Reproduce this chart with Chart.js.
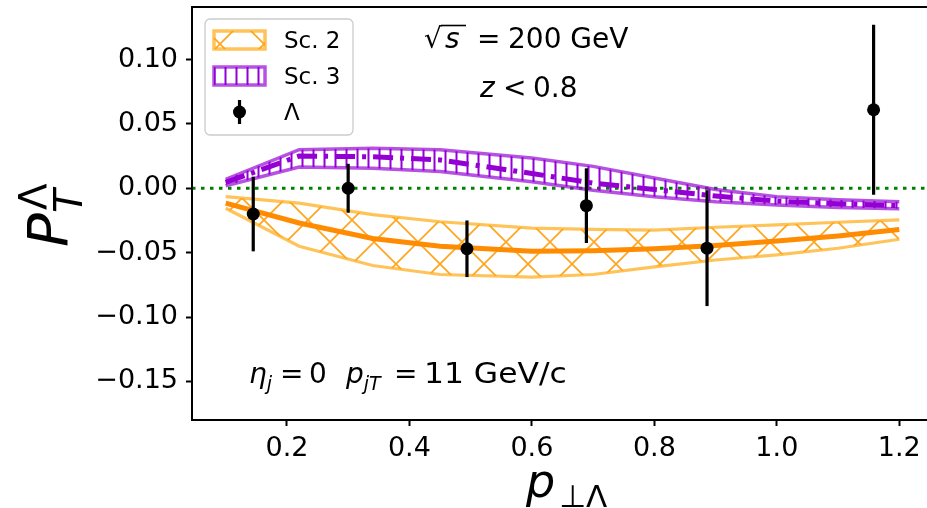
<!DOCTYPE html>
<html>
<head>
<meta charset="utf-8">
<script src="https://cdn.jsdelivr.net/npm/chart.js@4.4.1/dist/chart.umd.min.js"></script>
<style>
  html, body { margin: 0; padding: 0; background: #fff; overflow: hidden; }
  #wrap { width: 940px; height: 508px; }
</style>
</head>
<body>
<div id="wrap"><canvas id="chart" width="940" height="508"></canvas></div>
<script>
// axis ticks
const xTicks = [0.2, 0.4, 0.6, 0.8, 1.0, 1.2];
const yTicks = [-0.15, -0.10, -0.05, 0, 0.05, 0.10];

// model curves (Sc. 2 / Sc. 3)
const modelX = [0.1, 0.22, 0.34, 0.45, 0.6, 0.7, 0.8, 0.9, 1.0, 1.1, 1.2];
const sc2Upper = [-0.0065, -0.0115, -0.0205, -0.026, -0.031, -0.032, -0.0325, -0.0303, -0.0285, -0.0264, -0.0246];
const sc2Center = [-0.0116, -0.027, -0.039, -0.045, -0.049, -0.0485, -0.047, -0.0445, -0.041, -0.037, -0.032];
const sc2Lower = [-0.0155, -0.045, -0.060, -0.067, -0.069, -0.067, -0.061, -0.0557, -0.0518, -0.0466, -0.0396];
const sc3Upper = [0.007, 0.030, 0.031, 0.030, 0.0235, 0.017, 0.008, -0.001, -0.0065, -0.009, -0.0105];
const sc3Center = [0.0045, 0.025, 0.0245, 0.022, 0.0115, 0.004, -0.001, -0.006, -0.010, -0.012, -0.0135];
const sc3Lower = [0.002, 0.0165, 0.0155, 0.013, 0.005, -0.0015, -0.0065, -0.0105, -0.013, -0.015, -0.016];

// Lambda data points
const lambdaX = [0.145, 0.30, 0.494, 0.689, 0.886, 1.158];
const lambdaY = [-0.020, 0.000, -0.047, -0.0135, -0.0465, 0.061];
const lambdaErr = [0.029, 0.019, 0.022, 0.029, 0.045, 0.066];

const FONT = "'DejaVu Sans', sans-serif";
const ORANGE_EDGE = "rgba(255,165,0,0.65)";
const ORANGE_LINE = "#FF8C00";
const PURPLE_EDGE = "rgba(148,0,211,0.68)";
const PURPLE_LINE = "#9400D3";

const canvas = document.getElementById("chart");
const ctx = canvas.getContext("2d");

function crossHatch() {
  const c = document.createElement("canvas");
  c.width = 44; c.height = 44;
  const g = c.getContext("2d");
  g.strokeStyle = "#FFA520";
  g.lineWidth = 1.7;
  g.beginPath();
  g.moveTo(-4, -4); g.lineTo(48, 48);
  g.moveTo(-4, 48); g.lineTo(48, -4);
  g.stroke();
  return ctx.createPattern(c, "repeat");
}

function vertHatch() {
  const c = document.createElement("canvas");
  c.width = 11; c.height = 11;
  const g = c.getContext("2d");
  g.fillStyle = PURPLE_LINE;
  g.fillRect(4.5, 0, 2, 11);
  return ctx.createPattern(c, "repeat");
}

const hatch2 = crossHatch();
const hatch3 = vertHatch();

const pts = (ys) => modelX.map((x, i) => ({ x, y: ys[i] }));

// draws pieces of text one after another
function rich(c, x, y, parts) {
  for (const p of parts) {
    c.font = p.f;
    const px = p.x !== undefined ? p.x : x;
    c.fillText(p.t, px, y + (p.dy || 0));
    x = px + c.measureText(p.t).width;
  }
  return x;
}

const zeroLine = {
  id: "zeroLine",
  beforeDatasetsDraw(chart) {
    const { ctx: c, chartArea: a, scales } = chart;
    const y = scales.y.getPixelForValue(0);
    c.save();
    c.strokeStyle = "#008000";
    c.lineWidth = 3;
    c.setLineDash([3.5, 5.5]);
    c.beginPath();
    c.moveTo(a.left, y);
    c.lineTo(a.right, y);
    c.stroke();
    c.restore();
  }
};

const errorBars = {
  id: "errorBars",
  afterDatasetsDraw(chart) {
    const { ctx: c, scales } = chart;
    c.save();
    c.strokeStyle = "#000";
    c.lineWidth = 3.2;
    lambdaX.forEach((x, i) => {
      const px = scales.x.getPixelForValue(x);
      c.beginPath();
      c.moveTo(px, scales.y.getPixelForValue(lambdaY[i] - lambdaErr[i]));
      c.lineTo(px, scales.y.getPixelForValue(lambdaY[i] + lambdaErr[i]));
      c.stroke();
    });
    c.restore();
  }
};

const decorations = {
  id: "decorations",
  afterDraw(chart) {
    const { ctx: c, chartArea: a } = chart;
    c.save();
    // frame
    c.strokeStyle = "#000";
    c.lineWidth = 2;
    c.strokeRect(a.left, a.top, a.right - a.left, a.bottom - a.top);

    // legend
    c.beginPath();
    c.roundRect(205, 19, 148, 116, 5);
    c.fillStyle = "rgba(255,255,255,0.8)";
    c.fill();
    c.strokeStyle = "#CCCCCC";
    c.lineWidth = 1.3;
    c.stroke();

    c.lineWidth = 3.5;
    c.fillStyle = hatch2;
    c.fillRect(214, 31, 51, 18);
    c.strokeStyle = ORANGE_EDGE;
    c.strokeRect(214, 31, 51, 18);
    c.fillStyle = hatch3;
    c.fillRect(214, 67, 51, 18);
    c.strokeStyle = PURPLE_EDGE;
    c.strokeRect(214, 67, 51, 18);

    c.strokeStyle = "#000";
    c.lineWidth = 3.2;
    c.beginPath();
    c.moveTo(239.5, 100); c.lineTo(239.5, 124);
    c.stroke();
    c.fillStyle = "#000";
    c.beginPath();
    c.arc(239.5, 112, 6.5, 0, Math.PI * 2);
    c.fill();

    c.textBaseline = "alphabetic";
    c.textAlign = "left";
    c.font = "23px " + FONT;
    c.fillText("Sc. 2", 284, 48);
    c.fillText("Sc. 3", 284, 84);
    c.fillText("\u039B", 284, 120);

    // annotations
    const it = (s) => "italic " + s + "px " + FONT;
    const rm = (s) => s + "px " + FONT;
    c.font = rm(28);
    c.fillText("\u221A", 424, 48);
    c.font = it(28);
    c.fillText("s", 445, 48);
    c.lineWidth = 1.6;
    c.beginPath();
    c.moveTo(441, 25.5); c.lineTo(466, 25.5);
    c.stroke();
    c.font = rm(28);
    c.fillText("=", 477, 48);
    c.fillText("200 GeV", 508, 48);

    c.font = it(28);
    c.fillText("z", 480, 97);
    c.font = rm(28);
    c.fillText("<", 503, 97);
    c.fillText("0.8", 533, 97);

    rich(c, 249, 383, [
      { t: "\u03B7", f: it(28) },
      { t: "j", f: it(19), dy: 7 },
      { t: "=", f: rm(28), x: 280 },
      { t: "0", f: rm(28), x: 309 },
      { t: "p", f: it(28), x: 346 },
      { t: "jT", f: it(19), dy: 7 },
      { t: "=", f: rm(28), x: 394 }
    ]);
    // "11 GeV/c" is a bit wider in the original, stretch it slightly
    c.save();
    c.translate(424, 383);
    c.scale(1.12, 1);
    c.font = rm(28);
    c.fillText("11 GeV/c", 0, 0);
    c.restore();

    // x title
    rich(c, 526, 497, [
      { t: "p", f: it(46) },
      { t: "\u22A5\u039B", f: rm(31), dy: 10, x: 559 }
    ]);

    // y title (rotated)
    c.translate(67, 247);
    c.rotate(-Math.PI / 2);
    c.font = it(56);
    c.fillText("P", 0, 0);
    c.font = rm(39);
    c.fillText("\u039B", 37, -20);
    c.font = it(39);
    c.fillText("T", 34, 15);
    c.restore();
  }
};

Chart.defaults.font.family = FONT;
Chart.defaults.color = "#000";

new Chart(ctx, {
  type: "line",
  data: {
    datasets: [
      { data: lambdaX.map((x, i) => ({ x, y: lambdaY[i] })), showLine: false,
        pointRadius: 6.5, pointBackgroundColor: "#000", pointBorderWidth: 0, order: 0 },
      { data: pts(sc3Center), borderColor: PURPLE_LINE, borderWidth: 5,
        borderDash: [20, 7, 4, 7], pointRadius: 0, order: 1 },
      { data: pts(sc3Upper), borderColor: PURPLE_EDGE, borderWidth: 3.5, pointRadius: 0,
        fill: "+1", backgroundColor: hatch3, order: 2 },
      { data: pts(sc3Lower), borderColor: PURPLE_EDGE, borderWidth: 3.5, pointRadius: 0, order: 2 },
      { data: pts(sc2Center), borderColor: ORANGE_LINE, borderWidth: 5, pointRadius: 0, order: 3 },
      { data: pts(sc2Upper), borderColor: ORANGE_EDGE, borderWidth: 3.2, pointRadius: 0,
        fill: "+1", backgroundColor: hatch2, order: 4 },
      { data: pts(sc2Lower), borderColor: ORANGE_EDGE, borderWidth: 3.2, pointRadius: 0, order: 4 }
    ]
  },
  options: {
    responsive: false,
    devicePixelRatio: 1,
    animation: false,
    events: [],
    layout: { padding: { left: 0, top: 7, right: 7, bottom: 0 } },
    plugins: { legend: { display: false }, tooltip: { enabled: false } },
    elements: { line: { tension: 0 } },
    scales: {
      x: {
        type: "linear",
        min: 0.045,
        max: 1.255,
        afterBuildTicks: (s) => { s.ticks = xTicks.map((v) => ({ value: v })); },
        afterFit: (s) => { s.height = 88; s.paddingLeft = 0; s.paddingRight = 0; },
        border: { display: false },
        grid: { drawOnChartArea: false, drawTicks: true, tickLength: 6, tickWidth: 2, tickColor: "#000" },
        ticks: { font: { size: 27 }, padding: 7, maxRotation: 0, callback: (v) => v.toFixed(1) }
      },
      y: {
        min: -0.18,
        max: 0.1408,
        afterBuildTicks: (s) => { s.ticks = yTicks.map((v) => ({ value: v })); },
        afterFit: (s) => { s.width = 192; s.paddingTop = 0; s.paddingBottom = 0; },
        border: { display: false },
        grid: { drawOnChartArea: false, drawTicks: true, tickLength: 6, tickWidth: 2, tickColor: "#000" },
        ticks: { font: { size: 27 }, padding: 8,
          callback: (v) => (v < 0 ? "\u2212" : "") + Math.abs(v).toFixed(2) }
      }
    }
  },
  plugins: [zeroLine, errorBars, decorations]
});
</script>
</body>
</html>
